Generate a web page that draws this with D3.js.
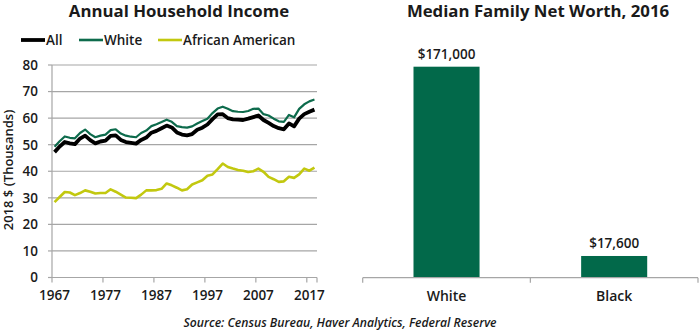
<!DOCTYPE html>
<html><head><meta charset="utf-8">
<script src="https://cdn.jsdelivr.net/npm/d3@7"></script>
<style>
body{margin:0;background:#fff;}
svg{display:block;font-family:"Open Sans",sans-serif;}
</style></head>
<body>
<svg id="c" width="700" height="330"></svg>
<script>
const years = d3.range(1967, 2019);
const allIncome = [47.2,49.3,51.0,50.5,50.2,52.3,53.4,51.7,50.5,51.2,51.5,53.3,53.5,51.8,51.0,50.7,50.4,51.8,52.7,54.5,55.2,56.2,57.2,56.5,54.6,53.8,53.5,54.0,55.6,56.4,57.6,59.6,61.4,61.5,60.0,59.5,59.4,59.3,59.8,60.4,61.0,59.3,58.2,57.0,56.2,55.8,58.0,56.9,59.8,61.5,62.4,63.2];
const whiteIncome = [49.2,51.3,53.1,52.6,52.4,54.4,55.7,54.0,52.8,53.4,53.8,55.5,55.8,54.2,53.4,53.0,52.8,54.4,55.3,57.0,57.7,58.5,59.4,58.6,57.0,56.6,56.4,56.9,58.0,58.9,59.8,61.9,63.6,64.3,63.5,62.6,62.4,62.3,62.7,63.5,63.6,61.5,61.0,59.8,58.8,58.6,61.2,60.3,63.5,65.2,66.3,67.0];
const aaIncome = [28.4,30.3,32.2,32.0,31.0,31.8,32.8,32.3,31.6,31.8,31.8,33.2,32.3,31.2,30.1,30.0,29.9,31.2,32.8,32.8,32.9,33.4,35.4,34.7,33.8,32.8,33.2,35.0,35.8,36.6,38.3,38.8,40.8,42.9,41.6,41.0,40.5,40.2,39.7,40.0,41.0,39.8,37.9,37.0,36.0,36.2,37.9,37.5,38.8,41.0,40.2,41.4];
const seriesNames = ["All","White","African American"];
const yTicks = [0,10,20,30,40,50,60,70,80];
const xTickYears = [1967,1977,1987,1997,2007,2017];

const wealthGroups = ["White","Black"];
const wealthValues = [171000,17600];
const wealthLabels = ["$171,000","$17,600"];

const colors = {"All":"#000000","White":"#0d6b4c","African American":"#c2c80f"};
const widths = {"All":3.8,"White":2.2,"African American":2.6};
const barColor = "#02694a";
const textColor = "#1a1a1a";
const gridColor = "#a6a6a6";

const svg = d3.select("#c");

// ---------- Left chart ----------
const L = {left:52, right:317, top:65, bottom:277.5};
const x = d3.scaleLinear().domain([1966.5, 2018.5]).range([L.left, L.right]);
const y = d3.scaleLinear().domain([0,80]).range([L.bottom, L.top]);

svg.append("text").attr("x",179).attr("y",17).attr("text-anchor","middle")
  .attr("font-size",16.8).attr("font-weight",700).attr("fill",textColor).text("Annual Household Income");

// grid
svg.append("g").selectAll("line").data(yTicks.filter(d=>d>0)).join("line")
  .attr("x1",L.left).attr("x2",L.right).attr("y1",d=>y(d)).attr("y2",d=>y(d))
  .attr("stroke",gridColor).attr("stroke-width",1.2);
svg.append("line").attr("x1",L.left).attr("x2",L.right).attr("y1",y(0)).attr("y2",y(0))
  .attr("stroke",gridColor).attr("stroke-width",1.2);
svg.append("line").attr("x1",L.left).attr("x2",L.left).attr("y1",y(80)).attr("y2",y(0))
  .attr("stroke",gridColor).attr("stroke-width",1.2);
svg.append("g").selectAll("line").data(yTicks).join("line")
  .attr("x1",L.left-4).attr("x2",L.left).attr("y1",d=>y(d)).attr("y2",d=>y(d))
  .attr("stroke",gridColor).attr("stroke-width",1.2);
svg.append("g").selectAll("text").data(yTicks).join("text")
  .attr("x",38).attr("y",d=>y(d)).attr("dy","0.36em").attr("text-anchor","end")
  .attr("font-size",13.5).attr("font-weight",600).attr("fill",textColor).text(d=>d);
svg.append("g").selectAll("line").data(xTickYears).join("line")
  .attr("x1",d=>x(d-0.5)).attr("x2",d=>x(d-0.5)).attr("y1",y(0)).attr("y2",y(0)+5)
  .attr("stroke",gridColor).attr("stroke-width",1.2);
svg.append("line").attr("x1",x(2018.5)).attr("x2",x(2018.5)).attr("y1",y(0)).attr("y2",y(0)+5)
  .attr("stroke",gridColor).attr("stroke-width",1.2);
svg.append("g").selectAll("text").data(xTickYears).join("text")
  .attr("x",d=>x(d)).attr("y",300).attr("text-anchor","middle")
  .attr("font-size",13.5).attr("font-weight",600).attr("fill",textColor).text(d=>d);

svg.append("text").attr("transform","translate(13,170) rotate(-90)").attr("text-anchor","middle")
  .attr("font-size",13).attr("font-weight",600).attr("fill",textColor).text("2018 $ (Thousands)");

const seriesData = {"All":allIncome,"White":whiteIncome,"African American":aaIncome};
const line = d3.line().x((d,i)=>x(years[i])).y(d=>y(d)).curve(d3.curveLinear);
["African American","White","All"].forEach(name=>{
  svg.append("path").datum(seriesData[name]).attr("d",line).attr("fill","none")
    .attr("stroke",colors[name]).attr("stroke-width",widths[name]).attr("stroke-linejoin","round");
});

const legX = [21,79,158];
const lg = svg.append("g").selectAll("g").data(seriesNames).join("g")
  .attr("transform",(d,i)=>`translate(${legX[i]},40)`);
lg.append("line").attr("x1",0).attr("x2",24).attr("y1",0).attr("y2",0)
  .attr("stroke",d=>colors[d]).attr("stroke-width",d=>d==="All"?3.8:2.6);
lg.append("text").attr("x",25).attr("dy","0.36em").attr("font-size",13.5).attr("font-weight",600)
  .attr("fill",textColor).text(d=>d);

// ---------- Right chart ----------
const R = {left:362.7, right:698, bottom:277.7};
const xb = d3.scaleBand().domain(wealthGroups).range([R.left,R.right]).paddingInner(0.606).paddingOuter(0.303);
const yb = d3.scaleLinear().domain([0,200000]).range([R.bottom, R.bottom - 211*200000/171000]);
const xs = d3.scaleBand().domain(wealthGroups).range([R.left,R.right]);

svg.append("text").attr("x",538).attr("y",17).attr("text-anchor","middle")
  .attr("font-size",16.8).attr("font-weight",700).attr("fill",textColor).text("Median Family Net Worth, 2016");

svg.append("g").selectAll("rect").data(wealthGroups).join("rect")
  .attr("x",d=>xb(d)).attr("width",xb.bandwidth())
  .attr("y",(d,i)=>yb(wealthValues[i])).attr("height",(d,i)=>yb(0)-yb(wealthValues[i]))
  .attr("fill",barColor);
svg.append("g").selectAll("text").data(wealthGroups).join("text")
  .attr("x",d=>xb(d)+xb.bandwidth()/2).attr("y",(d,i)=>yb(wealthValues[i])-8)
  .attr("text-anchor","middle").attr("font-size",13.5).attr("font-weight",600).attr("fill",textColor)
  .text((d,i)=>wealthLabels[i]);

svg.append("line").attr("x1",R.left).attr("x2",R.right).attr("y1",R.bottom).attr("y2",R.bottom)
  .attr("stroke",gridColor).attr("stroke-width",1.2);
const tickPos = wealthGroups.map(d=>xs(d)).concat([R.right]);
svg.append("g").selectAll("line").data(tickPos).join("line")
  .attr("x1",d=>d).attr("x2",d=>d).attr("y1",R.bottom).attr("y2",R.bottom+5)
  .attr("stroke",gridColor).attr("stroke-width",1.2);
svg.append("g").selectAll("text").data(wealthGroups).join("text")
  .attr("x",d=>xs(d)+xs.bandwidth()/2).attr("y",301).attr("text-anchor","middle")
  .attr("font-size",14).attr("font-weight",600).attr("fill",textColor).text(d=>d);

svg.append("text").attr("x",340).attr("y",327).attr("text-anchor","middle")
  .attr("font-size",12.2).attr("font-style","italic").attr("font-weight",600).attr("fill",textColor)
  .text("Source: Census Bureau, Haver Analytics, Federal Reserve");
</script>
</body></html>
